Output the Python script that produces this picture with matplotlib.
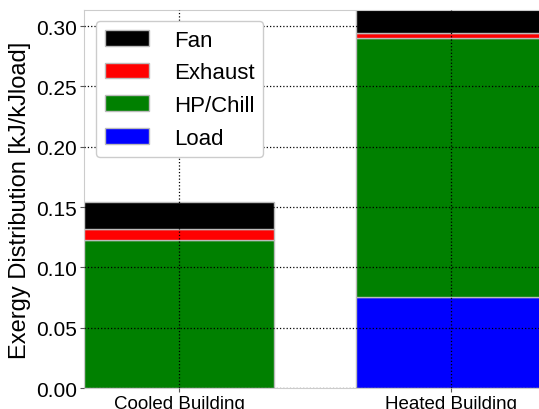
import numpy as np
import matplotlib
matplotlib.use('Agg')
import matplotlib.pyplot as plt

plt.rcParams['font.family'] = ['Liberation Sans', 'DejaVu Sans']

buildings = ['Cooled Building', 'Heated Building']
load    = [0.0,    0.0757]
hpchill = [0.1229, 0.2141]
exhaust = [0.0089, 0.0041]
fan     = [0.0226, 0.0200]

x = np.arange(len(buildings))
w = 0.7

fig = plt.figure(figsize=(5.39, 4.10), dpi=100)
ax = fig.add_axes([0.156, 0.051, 0.844, 0.922])

ec = '#bbbbbb'
b1 = ax.bar(x, load, w, color='blue', edgecolor=ec, linewidth=1, label='Load', zorder=2)
bot = np.array(load)
b2 = ax.bar(x, hpchill, w, bottom=bot, color='green', edgecolor=ec, linewidth=1, label='HP/Chill', zorder=2)
bot = bot + hpchill
b3 = ax.bar(x, exhaust, w, bottom=bot, color='red', edgecolor=ec, linewidth=1, label='Exhaust', zorder=2)
bot = bot + exhaust
b4 = ax.bar(x, fan, w, bottom=bot, color='black', edgecolor=ec, linewidth=1, label='Fan', zorder=2)

ax.set_xlim(-0.35, 1.3235)
ax.set_ylim(0, 0.3133)
ax.set_xticks(x)
ax.set_xticklabels(buildings, fontsize=13.5)
ax.set_yticks(np.arange(0, 0.31, 0.05))
ax.set_yticklabels(['%.2f' % v for v in np.arange(0, 0.31, 0.05)], fontsize=15)
ax.set_ylabel('Exergy Distribution [kJ/kJload]', fontsize=17, labelpad=4)
ax.grid(True, color='black', linestyle=':', linewidth=0.9, zorder=3)
ax.set_axisbelow(False)
for s in ['left', 'top', 'bottom']:
    ax.spines[s].set_color('#cccccc')
ax.spines['right'].set_visible(False)
ax.tick_params(length=3, color='#555555', pad=2)

leg = ax.legend([b4, b3, b2, b1], ['Fan', 'Exhaust', 'HP/Chill', 'Load'],
                loc='upper left', bbox_to_anchor=(0.026, 0.971), fontsize=16,
                handlelength=2.0, handleheight=0.7, labelspacing=0.52,
                borderpad=0.4, handletextpad=1.1, borderaxespad=0,
                fancybox=True, framealpha=1)
leg.get_frame().set_edgecolor('#cccccc')

fig.savefig('out.png', dpi=100)
